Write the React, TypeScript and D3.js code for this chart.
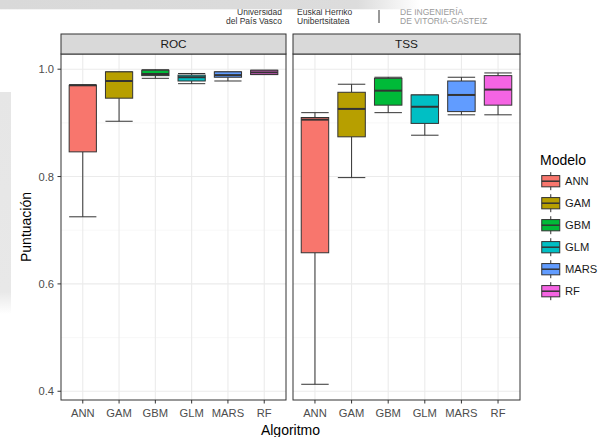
import React from "react";
import * as d3 from "d3";

const categories = ["ANN", "GAM", "GBM", "GLM", "MARS", "RF"];
const panelNames = ["ROC", "TSS"];
const colors = ["#F8766D", "#B79F00", "#00BA38", "#00BFC4", "#619CFF", "#F564E3"];

// ROC box statistics
const rocLower = [0.725, 0.903, 0.983, 0.973, 0.978, 0.990];
const rocQ1 = [0.846, 0.946, 0.988, 0.978, 0.985, 0.990];
const rocMedian = [0.970, 0.978, 0.991, 0.985, 0.989, 0.994];
const rocQ3 = [0.970, 0.995, 0.998, 0.989, 0.995, 0.998];
const rocUpper = [0.971, 0.995, 0.999, 0.992, 0.995, 0.998];

// TSS box statistics
const tssLower = [0.413, 0.798, 0.919, 0.877, 0.915, 0.915];
const tssQ1 = [0.658, 0.874, 0.933, 0.899, 0.921, 0.933];
const tssMedian = [0.906, 0.926, 0.960, 0.930, 0.952, 0.962];
const tssQ3 = [0.910, 0.957, 0.983, 0.952, 0.978, 0.988];
const tssUpper = [0.919, 0.972, 0.985, 0.952, 0.985, 0.993];

const yTicks = [0.4, 0.6, 0.8, 1.0];
const yMinor = [0.5, 0.7, 0.9];

const W = 601;
const H = 437;
const FONT = "'Liberation Sans', Arial, Helvetica, sans-serif";

const panelsData = [
  { name: panelNames[0], lower: rocLower, q1: rocQ1, median: rocMedian, q3: rocQ3, upper: rocUpper },
  { name: panelNames[1], lower: tssLower, q1: tssQ1, median: tssMedian, q3: tssQ3, upper: tssUpper },
];

export default function App() {
  const panelTop = 54;
  const panelBottom = 400;
  const stripTop = 34;
  const panelX = [
    [61, 286],
    [293, 520],
  ];
  const allLow = d3.min([...rocLower, ...tssLower]) as number;
  const allHigh = d3.max([...rocUpper, ...tssUpper]) as number;
  const pad = (allHigh - allLow) * 0.05;
  const y = d3.scaleLinear().domain([allLow - pad, allHigh + pad]).range([panelBottom, panelTop]);

  const lineCol = "#333333";
  const gridMajor = "#EBEBEB";
  const gridMinor = "#F4F4F4";

  const legendX = 539.5;
  const keySize = 22.5;
  const legendY0 = 181.2;
  const legendStep = 22;

  return (
    <svg width={W} height={H} style={{ position: "absolute", left: 0, top: 0, background: "#fff" }} fontFamily={FONT}>
      <defs>
        <linearGradient id="hdrFade" x1="0" x2="1" y1="0" y2="0">
          <stop offset="0" stopColor="#d9d9d9" />
          <stop offset="0.85" stopColor="#dcdcdc" />
          <stop offset="1" stopColor="#ffffff" />
        </linearGradient>
        <linearGradient id="sideFade" x1="0" x2="0" y1="0" y2="1">
          <stop offset="0" stopColor="#e6e6e6" />
          <stop offset="0.9" stopColor="#e8e8e8" />
          <stop offset="1" stopColor="#ffffff" />
        </linearGradient>
      </defs>
      <rect x={0} y={0} width={W} height={H} fill="#fff" />

      {/* header remnants */}
      <g fontSize={8.5}>
        <text x={282} y={14.7} textAnchor="end" fill="#333">Universidad</text>
        <text x={282} y={23.5} textAnchor="end" fill="#333">del País Vasco</text>
        <text x={297} y={14.7} fill="#333">Euskal Herriko</text>
        <text x={297} y={23.5} fill="#333">Unibertsitatea</text>
        <text x={400} y={14.7} fill="#9a9a9a">DE INGENIERÍA</text>
        <text x={400} y={23.5} fill="#9a9a9a">DE VITORIA-GASTEIZ</text>
      </g>
      <line x1={379} x2={379} y1={10} y2={23} stroke="#333" strokeWidth={1} />
      <rect x={0} y={0} width={420} height={9.3} fill="url(#hdrFade)" />
      <rect x={0} y={92} width={11} height={222} fill="url(#sideFade)" />

      {panelsData.map((p, pi) => {
        const [x0, x1] = panelX[pi];
        const x = d3.scalePoint<string>().domain(categories).range([x0, x1]).padding(0.6);
        const bw = x.step() * 0.75;
        return (
          <g key={p.name}>
            {/* panel background & grid */}
            <rect x={x0} y={panelTop} width={x1 - x0} height={panelBottom - panelTop} fill="#fff" />
            {yMinor.map((t) => (
              <line key={"mn" + t} x1={x0} x2={x1} y1={y(t)} y2={y(t)} stroke={gridMinor} strokeWidth={0.6} />
            ))}
            {yTicks.map((t) => (
              <line key={"mj" + t} x1={x0} x2={x1} y1={y(t)} y2={y(t)} stroke={gridMajor} strokeWidth={1.1} />
            ))}
            {categories.map((c) => (
              <line key={"vg" + c} x1={x(c)} x2={x(c)} y1={panelTop} y2={panelBottom} stroke={gridMajor} strokeWidth={1.1} />
            ))}

            {/* boxes */}
            {categories.map((c, i) => {
              const cx = x(c) as number;
              return (
                <g key={"b" + c}>
                  <line x1={cx} x2={cx} y1={y(p.upper[i])} y2={y(p.q3[i])} stroke={lineCol} strokeWidth={1} />
                  <line x1={cx} x2={cx} y1={y(p.q1[i])} y2={y(p.lower[i])} stroke={lineCol} strokeWidth={1} />
                  <line x1={cx - bw / 2} x2={cx + bw / 2} y1={y(p.upper[i])} y2={y(p.upper[i])} stroke={lineCol} strokeWidth={1} />
                  <line x1={cx - bw / 2} x2={cx + bw / 2} y1={y(p.lower[i])} y2={y(p.lower[i])} stroke={lineCol} strokeWidth={1} />
                  <rect
                    x={cx - bw / 2}
                    y={y(p.q3[i])}
                    width={bw}
                    height={Math.max(0.5, y(p.q1[i]) - y(p.q3[i]))}
                    fill={colors[i]}
                    stroke={lineCol}
                    strokeWidth={1}
                  />
                  <line x1={cx - bw / 2} x2={cx + bw / 2} y1={y(p.median[i])} y2={y(p.median[i])} stroke={lineCol} strokeWidth={2} />
                </g>
              );
            })}

            {/* border */}
            <rect x={x0} y={panelTop} width={x1 - x0} height={panelBottom - panelTop} fill="none" stroke={lineCol} strokeWidth={1} />
            {/* strip */}
            <rect x={x0} y={stripTop} width={x1 - x0} height={panelTop - stripTop} fill="#D9D9D9" stroke={lineCol} strokeWidth={1} />
            <text x={(x0 + x1) / 2} y={(stripTop + panelTop) / 2 + 4.2} textAnchor="middle" fontSize={11.8} fill="#1a1a1a">
              {p.name}
            </text>

            {/* x axis */}
            {categories.map((c) => (
              <g key={"xt" + c}>
                <line x1={x(c)} x2={x(c)} y1={panelBottom} y2={panelBottom + 3.5} stroke={lineCol} strokeWidth={1} />
                <text x={x(c)} y={panelBottom + 17} textAnchor="middle" fontSize={11.2} fill="#4D4D4D">
                  {c}
                </text>
              </g>
            ))}

            {/* y axis (left panel only) */}
            {pi === 0 &&
              yTicks.map((t) => (
                <g key={"yt" + t}>
                  <line x1={x0 - 3.5} x2={x0} y1={y(t)} y2={y(t)} stroke={lineCol} strokeWidth={1} />
                  <text x={x0 - 7} y={y(t) + 4} textAnchor="end" fontSize={11.2} fill="#4D4D4D">
                    {d3.format(".1f")(t)}
                  </text>
                </g>
              ))}
          </g>
        );
      })}

      {/* axis titles */}
      <text x={(61 + 520) / 2} y={435} textAnchor="middle" fontSize={14} fill="#000">
        Algoritmo
      </text>
      <text
        transform={`translate(${30.5},${(panelTop + panelBottom) / 2}) rotate(-90)`}
        textAnchor="middle"
        fontSize={14}
        fill="#000"
      >
        Puntuación
      </text>

      {/* legend */}
      <text x={540} y={164.5} fontSize={14} fill="#000">
        Modelo
      </text>
      {categories.map((c, i) => {
        const cy = legendY0 + i * legendStep;
        const top = cy - keySize / 2;
        const kx = legendX;
        return (
          <g key={"lg" + c}>
            <line x1={kx + keySize / 2} x2={kx + keySize / 2} y1={top + keySize * 0.1} y2={top + keySize * 0.9} stroke={lineCol} strokeWidth={1} />
            <rect x={kx + keySize * 0.1} y={top + keySize * 0.25} width={keySize * 0.8} height={keySize * 0.5} fill={colors[i]} stroke={lineCol} strokeWidth={1} />
            <line x1={kx + keySize * 0.1} x2={kx + keySize * 0.9} y1={cy} y2={cy} stroke={lineCol} strokeWidth={1.5} />
            <text x={565} y={cy + 4} fontSize={11.2} fill="#1a1a1a">
              {c}
            </text>
          </g>
        );
      })}
    </svg>
  );
}
